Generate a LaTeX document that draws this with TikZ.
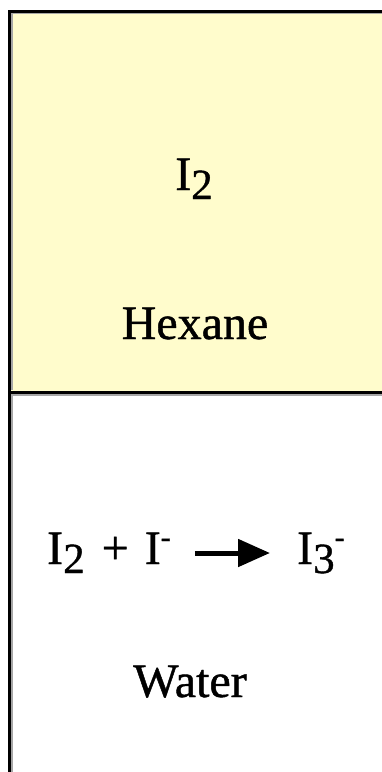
\documentclass[tikz,border=0pt]{standalone}
\usepackage{fontspec}
\setmainfont[FakeBold=0.9]{Liberation Serif}
\usetikzlibrary{arrows.meta,positioning}

\newcommand{\sbs}[1]{\raisebox{-9pt}{\fontsize{43}{43}\selectfont #1}}
\newcommand{\sps}[1]{\raisebox{17pt}{\fontsize{30}{30}\selectfont #1}}

\begin{document}
\begin{tikzpicture}[
      x=1pt, y=-1pt,
      every node/.style={inner sep=0pt, font=\fontsize{48}{48}\selectfont},
      wall/.style={line width=3pt, black},
      shade/.style={line width=1.5pt, gray!70},
      react/.style={-{Triangle[length=32pt,width=27pt]}, line width=5pt}
    ]
      \useasboundingbox (0,0) rectangle (382,772);

      % the two layers
      \fill[fill={rgb,255:red,255;green,252;blue,204}] (9.5,11) rectangle (392,392);
      \draw[shade] (392,13.5) -- (12,13.5) -- (12,390);
      \draw[shade] (392,395) -- (12,395) -- (12,780);
      \draw[wall] (392,11) -- (9.5,11) -- (9.5,780);
      \draw[wall] (9.5,392) -- (392,392);

      % hexane layer
      \node[anchor=base] (iodine) at (194,190) {I\sbs{2}};
      \node[anchor=base] (hexane) at (195,339) {Hexane};

      % water layer
      \node[anchor=base west] (lhs) at (47,564) {I\sbs{2}\hspace{5pt} + \hspace{4pt}I\sps{-}};
      \node[anchor=base west] (rhs) at (297,564) {I\sbs{3}\sps{-}};
      \node[anchor=base] (water) at (190,697) {Water};

      \draw[react] ([xshift=24pt,yshift=11pt]lhs.base east) -- ([xshift=-27pt,yshift=11pt]rhs.base west);
    \end{tikzpicture}
\end{document}
